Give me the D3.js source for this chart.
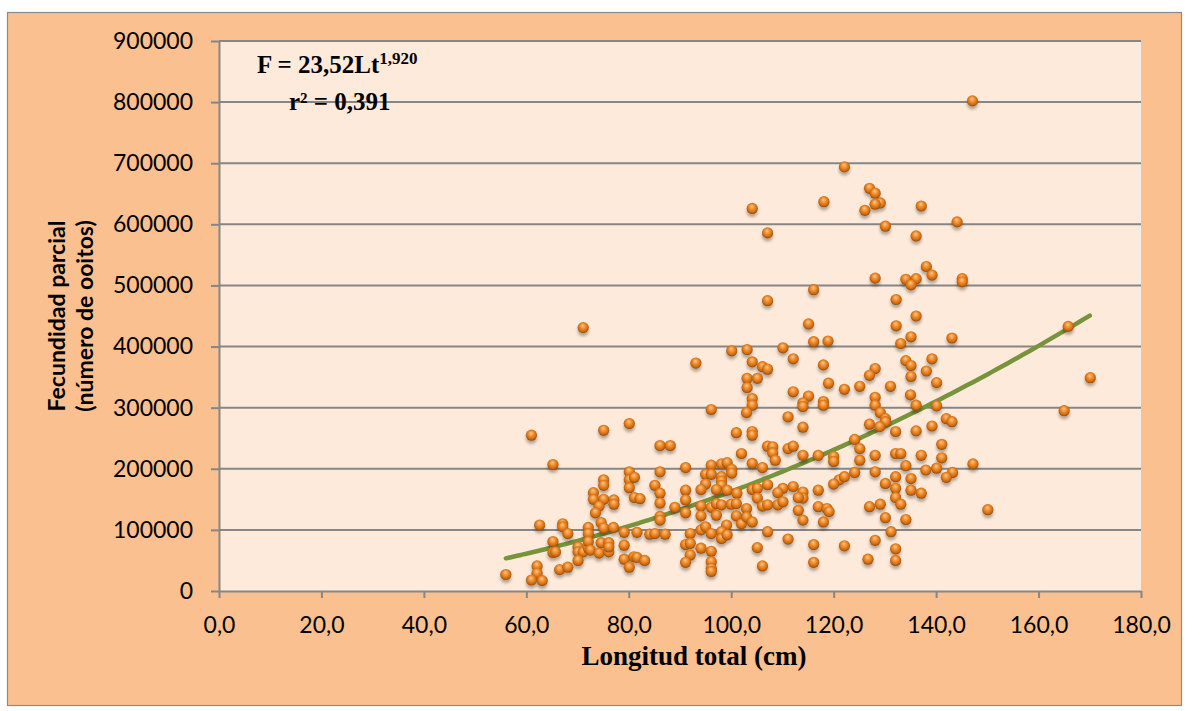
<!DOCTYPE html>
<html>
<head>
<meta charset="utf-8">
<script src="https://cdn.jsdelivr.net/npm/d3@7"></script>
<style>
  body { margin: 0; background: #fff; }
  svg { display: block; }
</style>
</head>
<body>
<svg id="chart"></svg>
<script>
// chart values
const xTicks = [0, 20, 40, 60, 80, 100, 120, 140, 160, 180]
const yTicks = [0, 100000, 200000, 300000, 400000, 500000, 600000, 700000, 800000, 900000]

// longitud total (cm)
const lengthCm = [
  147.1,104.1,118.1,107.1,107.1,116.1,115.1,116.1,118.9,93.1,
  100.1,103.1,110.1,112.1,104.1,106.1,107.1,118.0,103.1,105.1,
  103.1,119.0,122.1,127.0,128.1,129.1,128.1,126.1,137.1,130.1,
  144.1,136.1,138.1,139.2,128.1,134.1,136.1,135.1,145.1,145.1,
  132.2,136.1,132.2,135.1,143.1,133.1,134.1,135.1,139.2,138.1,
  128.1,127.0,135.1,140.1,125.1,131.1,122.1,165.8,170.1,165.0,
  150.1,147.2,143.2,71.1,
  61.0,75.1,80.1,86.1,88.1,65.2,80.1,86.1,75.1,75.1,
  80.1,81.1,80.1,85.1,73.1,73.1,75.1,77.1,77.1,81.1,
  82.2,86.1,86.1,74.2,73.5,89.0,86.1,86.1,62.6,67.1,
  67.1,68.1,72.1,72.1,74.6,75.1,77.0,79.1,81.6,84.1,
  85.1,87.1,65.2,65.2,65.7,70.1,70.1,71.1,72.1,72.1,
  72.5,74.2,74.6,76.1,76.1,79.1,79.1,80.1,81.0,81.6,
  83.1,70.1,62.1,62.1,61.0,63.1,56.0,66.5,68.1,76.1,
  104.1,104.1,103.0,96.1,112.1,115.1,114.0,114.0,118.0,111.1,
  114.0,101.0,104.1,104.1,102.0,107.1,108.1,108.1,108.6,111.1,
  112.1,114.0,117.0,91.1,96.1,98.1,99.2,100.1,100.1,104.1,
  106.1,95.0,96.1,98.1,98.1,98.1,95.0,91.1,94.1,97.1,
  99.2,101.1,104.1,105.1,107.1,105.1,110.1,109.1,112.1,114.0,
  114.0,113.1,117.0,91.1,91.1,94.1,94.1,96.1,97.1,97.1,
  98.1,100.0,101.0,101.0,102.0,103.0,103.0,104.1,106.1,107.1,
  109.1,110.1,113.1,114.0,117.0,118.0,118.7,99.1,92.0,94.1,
  95.0,96.1,98.1,98.1,99.2,107.1,91.1,92.0,94.1,96.1,
  92.0,91.1,96.1,96.1,96.1,105.1,106.1,111.1,116.1,116.1,
  128.1,128.1,129.1,130.1,130.1,135.0,136.1,140.1,142.0,143.1,
  127.0,129.0,132.1,136.1,139.2,124.1,125.1,141.1,120.0,120.0,
  125.1,128.1,132.1,133.1,137.1,141.1,134.1,138.0,140.1,142.0,
  124.1,128.1,121.1,120.0,122.1,130.1,132.1,135.1,132.1,135.1,
  137.1,132.1,133.1,129.1,127.0,119.1,130.1,134.1,131.2,122.1,
  128.1,132.1,126.7,132.1,118.0
]

// fecundidad parcial (numero de ooitos)
const fecundity = [
  802000,626000,637000,586000,475000,493000,437000,408000,409000,373000,
  393000,395000,398000,380000,375000,367000,363000,370000,348000,348000,
  333000,340000,694000,659000,651000,635000,633000,623000,630000,597000,
  604000,581000,531000,517000,512000,510000,511000,501000,511000,506000,
  477000,450000,434000,416000,414000,405000,377000,369000,380000,360000,
  364000,353000,351000,341000,335000,335000,330000,433000,349000,295000,
  133000,208000,194000,431000,
  255000,263000,274000,238000,238000,207000,195000,195000,182000,173000,
  182000,186000,169000,173000,161000,150000,150000,149000,142000,153000,
  151000,160000,144000,139000,128000,137000,122000,116000,108000,110000,
  105000,94000,104000,94000,112000,103000,104000,96000,96000,93000,
  94000,93000,81000,63000,64000,72000,64000,64000,70000,81000,
  67000,62000,79000,79000,64000,75000,52000,39000,56000,55000,
  50000,50000,41000,29000,18000,17000,27000,35000,39000,72000,
  315000,304000,292000,297000,326000,319000,308000,302000,310000,285000,
  268000,259000,261000,255000,225000,237000,236000,226000,214000,233000,
  237000,222000,222000,202000,206000,208000,210000,199000,193000,209000,
  202000,191000,191000,187000,180000,173000,175000,165000,166000,166000,
  165000,160000,166000,168000,174000,152000,168000,161000,171000,162000,
  152000,153000,165000,149000,128000,139000,123000,137000,143000,124000,
  141000,142000,143000,123000,110000,135000,121000,113000,139000,141000,
  141000,146000,132000,116000,138000,113000,135000,108000,94000,100000,
  105000,94000,97000,86000,92000,97000,76000,78000,70000,65000,
  59000,47000,48000,37000,32000,71000,41000,85000,76000,47000,
  317000,304000,292000,282000,277000,321000,304000,303000,282000,277000,
  273000,269000,261000,262000,270000,248000,233000,240000,220000,212000,
  214000,222000,225000,225000,222000,218000,205000,198000,201000,186000,
  194000,195000,182000,175000,187000,176000,187000,184000,168000,165000,
  160000,153000,142000,142000,138000,130000,120000,117000,97000,74000,
  83000,69000,52000,50000,304000
]

// fitted power curve F = a * Lt^b, drawn over the observed length range
const trendA = 23.52
const trendB = 1.920
const trendRange = [56, 170]

const width = 1189
const height = 711
const plot = { left: 219, right: 1141, top: 41, bottom: 591 }
const gray = '#868686'

const svg = d3.select('#chart')
    .attr('width', width)
    .attr('height', height)

const defs = svg.append('defs')

let grad = defs.append('radialGradient')
    .attr('id', 'ball')
    .attr('cx', '50%').attr('cy', '45%').attr('r', '55%')
    .attr('fx', '45%').attr('fy', '30%')
grad.append('stop').attr('offset', '0%').attr('stop-color', '#ffc784')
grad.append('stop').attr('offset', '45%').attr('stop-color', '#f08c2e')
grad.append('stop').attr('offset', '80%').attr('stop-color', '#c8680f')
grad.append('stop').attr('offset', '100%').attr('stop-color', '#8c470a')

let shadow = defs.append('filter')
    .attr('id', 'shadow')
    .attr('x', '-60%').attr('y', '-60%').attr('width', '220%').attr('height', '240%')
shadow.append('feDropShadow')
    .attr('dx', 0).attr('dy', 3)
    .attr('stdDeviation', 1.8)
    .attr('flood-color', '#000')
    .attr('flood-opacity', 0.3)

// outer chart area
svg.append('rect')
    .attr('x', 7.5).attr('y', 12.5)
    .attr('width', 1174).attr('height', 693)
    .attr('fill', '#fac090')
    .attr('stroke', '#8a8a8a')
    .attr('stroke-width', 1.2)

// plot area
svg.append('rect')
    .attr('x', plot.left).attr('y', plot.top)
    .attr('width', plot.right - plot.left)
    .attr('height', plot.bottom - plot.top)
    .attr('fill', '#fdeada')

const xScale = d3.scaleLinear().domain([0, 180]).range([plot.left, plot.right])
const yScale = d3.scaleLinear().domain([0, 900000]).range([plot.bottom, plot.top])

// gridlines
svg.append('g')
    .selectAll('line')
    .data(yTicks.filter(d => d > 0))
    .enter()
    .append('line')
    .attr('x1', plot.left).attr('x2', plot.right)
    .attr('y1', d => yScale(d)).attr('y2', d => yScale(d))
    .attr('stroke', gray)
    .attr('stroke-width', 2)

// axes
let yAxis = d3.axisLeft(yScale)
    .tickValues(yTicks)
    .tickFormat(d3.format('d'))
    .tickSize(8)
    .tickSizeOuter(0)
    .tickPadding(18)

let xAxis = d3.axisBottom(xScale)
    .tickValues(xTicks)
    .tickFormat(d => d.toFixed(1).replace('.', ','))
    .tickSize(7)
    .tickSizeOuter(0)
    .tickPadding(19)

let gy = svg.append('g')
    .attr('transform', 'translate(' + plot.left + ',0)')
    .call(yAxis)
let gx = svg.append('g')
    .attr('transform', 'translate(0,' + plot.bottom + ')')
    .call(xAxis)

;[gx, gy].forEach(g => {
    g.selectAll('path.domain').attr('stroke', gray).attr('stroke-width', 2)
    g.selectAll('.tick line').attr('stroke', gray).attr('stroke-width', 2)
    g.selectAll('.tick text')
        .attr('fill', '#000')
        .style('font-family', 'Lato, "Open Sans", sans-serif')
        .style('font-size', '23px')
})

// trend line
let trendX = d3.range(trendRange[0], trendRange[1] + 0.5, 1)
let line = d3.line()
    .x(d => xScale(d))
    .y(d => yScale(trendA * Math.pow(d, trendB)))
    .curve(d3.curveMonotoneX)

svg.append('path')
    .attr('d', line(trendX))
    .attr('fill', 'none')
    .attr('stroke', '#77933c')
    .attr('stroke-width', 4.5)
    .attr('stroke-linecap', 'round')

// points
svg.append('g')
    .attr('filter', 'url(#shadow)')
    .selectAll('circle')
    .data(lengthCm.map((d, i) => [d, fecundity[i]]))
    .enter()
    .append('circle')
    .attr('cx', d => xScale(d[0]))
    .attr('cy', d => yScale(d[1]))
    .attr('r', 5.6)
    .attr('fill', 'url(#ball)')

// axis titles
svg.append('text')
    .attr('x', 694)
    .attr('y', 665)
    .attr('text-anchor', 'middle')
    .style('font-family', '"Liberation Serif", serif')
    .style('font-weight', 'bold')
    .style('font-size', '27px')
    .text('Longitud total (cm)')

let yTitle = svg.append('text')
    .attr('transform', 'translate(0,' + ((plot.top + plot.bottom) / 2) + ') rotate(-90)')
    .attr('text-anchor', 'middle')
    .style('font-family', 'Lato, "Open Sans", sans-serif')
    .style('font-weight', 'bold')
    .style('font-size', '23px')
yTitle.append('tspan').attr('x', 0).attr('y', 65).text('Fecundidad parcial')
yTitle.append('tspan').attr('x', 0).attr('y', 93).text('(número de ooitos)')

// equation
let eq = svg.append('text')
    .attr('x', 257)
    .attr('y', 73)
    .style('font-family', '"Liberation Serif", serif')
    .style('font-weight', 'bold')
    .style('font-size', '25px')
eq.append('tspan').text('F = 23,52Lt')
eq.append('tspan').attr('dy', -9).style('font-size', '17px').text('1,920')

svg.append('text')
    .attr('x', 289)
    .attr('y', 110)
    .style('font-family', '"Liberation Serif", serif')
    .style('font-weight', 'bold')
    .style('font-size', '25px')
    .text('r² = 0,391')
</script>
</body>
</html>
